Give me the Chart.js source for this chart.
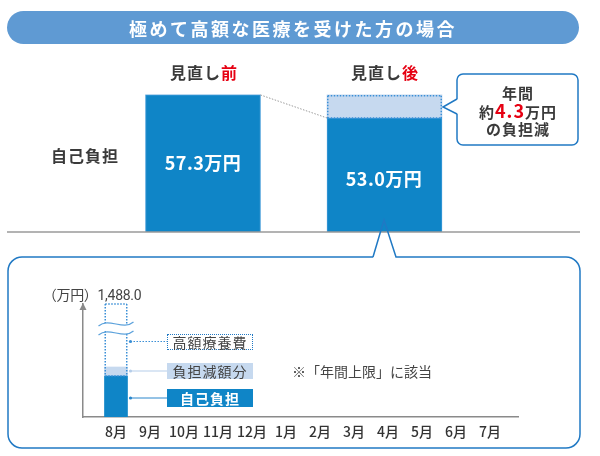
<!DOCTYPE html>
<html><head><meta charset="utf-8">
<script src="https://cdn.jsdelivr.net/npm/chart.js@4.4.0/dist/chart.umd.min.js"></script>
<style>
html,body{margin:0;padding:0;background:#fff;}
#wrap{position:relative;width:600px;height:456px;overflow:hidden;font-family:"Noto Sans CJK JP","Noto Sans",sans-serif;color:#333;}
canvas{position:absolute;left:0;top:0;}
#c1{z-index:1;} #c2{z-index:2;}
.t{position:absolute;transform:translate(-50%,-50%);white-space:nowrap;line-height:1;z-index:5;}
.red{color:#e60012;}
.md{font-weight:600;color:#3a3a3a;}
#title{position:absolute;left:7px;top:11px;width:572px;height:33px;border-radius:17px;background:#5f9ad3;z-index:5;}
.box{position:absolute;box-sizing:border-box;z-index:5;display:flex;align-items:center;justify-content:center;font-size:14px;letter-spacing:1px;line-height:1;color:#444;}
</style></head>
<body><div id="wrap">
<canvas id="c1" width="600" height="456"></canvas>
<canvas id="c2" width="600" height="456"></canvas>
<div id="title"></div>
<div class="t" style="left:293px;top:28px;color:#fff;font-weight:bold;font-size:18px;letter-spacing:2.5px;">極めて高額な医療を受けた方の場合</div>
<div class="t md" style="left:204px;top:72px;font-size:16px;letter-spacing:1px;">見直し<span class="red">前</span></div>
<div class="t md" style="left:385px;top:72px;font-size:16px;letter-spacing:1px;">見直し<span class="red">後</span></div>
<div class="t md" style="left:85px;top:155px;font-size:16px;letter-spacing:1px;">自己負担</div>
<div class="t" style="left:203px;top:162px;font-size:18px;font-weight:bold;color:#fff;letter-spacing:0.5px;">57.3万円</div>
<div class="t" style="left:384px;top:178px;font-size:18px;font-weight:bold;color:#fff;letter-spacing:0.5px;">53.0万円</div>
<div class="t md" style="left:518px;top:92px;font-size:15px;letter-spacing:1px;">年間</div>
<div class="t md" style="left:518px;top:110px;font-size:15px;letter-spacing:1px;">約<span class="red" style="font-weight:bold;font-size:18px;">4.3</span>万円</div>
<div class="t md" style="left:518px;top:128px;font-size:15px;letter-spacing:1px;">の負担減</div>
<div class="t" style="left:92px;top:295px;font-size:14px;letter-spacing:-0.3px;font-family:Roboto,'Noto Sans CJK JP',sans-serif;color:#444;">（万円）1,488.0</div>
<div class="box" style="left:167px;top:334px;width:86px;height:16px;border:1.5px dotted #2079c4;background:#fff;">高額療養費</div>
<div class="box" style="left:167px;top:363px;width:86px;height:16px;background:#c6d9ef;">負担減額分</div>
<div class="box" style="left:167px;top:389px;width:86px;height:18px;background:#0f85c7;color:#fff;font-weight:bold;">自己負担</div>
<div class="t" style="left:362px;top:371px;font-size:14px;color:#444;">※「年間上限」に該当</div>
</div>
<script>
// ---- data ----
const topCategories = ['見直し前', '見直し後'];
const topSelfPay = [57.3, 53.0];
const topReduction = [0, 4.3];
const months = ['8月','9月','10月','11月','12月','1月','2月','3月','4月','5月','6月','7月'];
const monthSelfPay = [53.0];
const monthReduction = [4.3];
const monthHighCost = [1430.7];

// ---- styles ----
const C_DARK = '#0f85c7', C_LIGHT = '#c6d9ef', C_LINE = '#2079c4', C_GRAY = '#8a8a8a';
const FONT = '"Noto Sans CJK JP","Noto Sans",sans-serif';

function roundRectPath(ctx, x, y, w, h, r) {
  ctx.moveTo(x + r, y); ctx.lineTo(x + w - r, y); ctx.arcTo(x + w, y, x + w, y + r, r);
  ctx.lineTo(x + w, y + h - r); ctx.arcTo(x + w, y + h, x + w - r, y + h, r);
  ctx.lineTo(x + r, y + h); ctx.arcTo(x, y + h, x, y + h - r, r);
  ctx.lineTo(x, y + r); ctx.arcTo(x, y, x + r, y, r);
}

function dottedRect(ctx, l, t, r, b, color, sides) {
  ctx.save();
  ctx.strokeStyle = color; ctx.lineWidth = 1.5; ctx.setLineDash([1.5, 1.5]);
  ctx.beginPath();
  if (sides.includes('t')) { ctx.moveTo(l, t); ctx.lineTo(r, t); }
  if (sides.includes('b')) { ctx.moveTo(l, b); ctx.lineTo(r, b); }
  if (sides.includes('l')) { ctx.moveTo(l, t); ctx.lineTo(l, b); }
  if (sides.includes('r')) { ctx.moveTo(r, t); ctx.lineTo(r, b); }
  ctx.stroke(); ctx.restore();
}

const topDeco = {
  id: 'topDeco',
  afterDatasetsDraw(chart) {
    const ctx = chart.ctx, ca = chart.chartArea;
    const b0 = chart.getDatasetMeta(0).data[0];
    const r1 = chart.getDatasetMeta(1).data[1];
    ctx.save();
    ctx.strokeStyle = '#9a9a9a'; ctx.lineWidth = 1.5;
    ctx.beginPath(); ctx.moveTo(7, ca.bottom); ctx.lineTo(580, ca.bottom); ctx.stroke();
    ctx.strokeStyle = '#9a9a9a'; ctx.lineWidth = 1; ctx.setLineDash([1.5, 1.5]);
    ctx.beginPath(); ctx.moveTo(b0.x + b0.width / 2, b0.y); ctx.lineTo(r1.x - r1.width / 2, r1.base); ctx.stroke();
    ctx.restore();
    dottedRect(ctx, r1.x - r1.width / 2 + 0.75, r1.y + 0.75, r1.x + r1.width / 2 - 0.75, r1.base, '#3a8fd6', 'tblr');
    ctx.save();
    ctx.strokeStyle = C_LINE; ctx.lineWidth = 1.5; ctx.fillStyle = '#fff';
    ctx.beginPath(); roundRectPath(ctx, 457, 74, 121, 71, 6); ctx.fill(); ctx.stroke();
    ctx.beginPath(); ctx.moveTo(458, 99); ctx.lineTo(443, 107); ctx.lineTo(458, 114); ctx.closePath(); ctx.fill();
    ctx.beginPath(); ctx.moveTo(457, 99); ctx.lineTo(443, 107); ctx.lineTo(457, 114); ctx.stroke();
    ctx.restore();
  }
};

new Chart(document.getElementById('c1'), {
  type: 'bar',
  data: {
    labels: topCategories,
    datasets: [
      { label: '自己負担', data: topSelfPay, backgroundColor: C_DARK, borderColor: '#3f9ad8', borderWidth: 1, barThickness: 115 },
      { label: '負担減', data: topReduction, backgroundColor: C_LIGHT, borderWidth: 0, barThickness: 115 }
    ]
  },
  options: {
    responsive: false, animation: false, events: [],
    layout: { padding: { left: 112.25, right: 124.75, top: 80.5, bottom: 224 } },
    plugins: { legend: { display: false }, tooltip: { enabled: false } },
    scales: {
      x: { display: false, stacked: true },
      y: { display: false, stacked: true, min: 31.69, max: 60 }
    }
  },
  plugins: [topDeco]
});

function wave(ctx, x0, x1, y) {
  const w = x1 - x0;
  ctx.moveTo(x0, y + 2);
  ctx.bezierCurveTo(x0 + w * 0.3, y - 7, x0 + w * 0.7, y + 7, x1, y - 2);
}

const bottomDeco = {
  id: 'bottomDeco',
  beforeDraw(chart) {
    const ctx = chart.ctx;
    ctx.save();
    ctx.strokeStyle = C_LINE; ctx.lineWidth = 1.5;
    const L = 8, T = 257, R = 580, B = 448, rad = 14;
    ctx.beginPath();
    ctx.moveTo(373, T); ctx.lineTo(384, 220); ctx.lineTo(396, T);
    ctx.lineTo(R - rad, T); ctx.arcTo(R, T, R, T + rad, rad);
    ctx.lineTo(R, B - rad); ctx.arcTo(R, B, R - rad, B, rad);
    ctx.lineTo(L + rad, B); ctx.arcTo(L, B, L, B - rad, rad);
    ctx.lineTo(L, T + rad); ctx.arcTo(L, T, L + rad, T, rad);
    ctx.lineTo(373, T);
    ctx.stroke();
    ctx.restore();
  },
  afterDatasetsDraw(chart) {
    const ctx = chart.ctx, ca = chart.chartArea;
    const r = chart.getDatasetMeta(1).data[0];
    const h = chart.getDatasetMeta(2).data[0];
    const l = h.x - h.width / 2, rr = h.x + h.width / 2;
    dottedRect(ctx, l + 0.75, ca.top, rr - 0.75, h.base, '#3a8fd6', 'tlr');
    dottedRect(ctx, l + 0.75, r.y, rr - 0.75, r.base, '#3a8fd6', 'blr');
    ctx.save();
    ctx.beginPath();
    ctx.moveTo(l - 6, 323);
    wave(ctx, l - 6, rr + 6, 324);
    ctx.lineTo(rr + 6, 331);
    ctx.bezierCurveTo(rr + 6 - (h.width + 12) * 0.3, 331 + 7, l - 6 + (h.width + 12) * 0.3, 331 - 7, l - 6, 335);
    ctx.closePath();
    ctx.fillStyle = '#fff'; ctx.fill();
    ctx.strokeStyle = '#5ea3dc'; ctx.lineWidth = 1.2;
    ctx.beginPath(); wave(ctx, l - 6, rr + 6, 324); ctx.stroke();
    ctx.beginPath(); wave(ctx, l - 6, rr + 6, 333); ctx.stroke();
    const conns = [[341.5, '#3a8fd6', true], [371, '#b5cde9', false], [398, '#2a86cc', false]];
    conns.forEach(([y, c, dotted]) => {
      ctx.strokeStyle = c; ctx.lineWidth = 1;
      ctx.setLineDash(dotted ? [1.5, 1.5] : []);
      ctx.beginPath(); ctx.moveTo(rr + 3, y); ctx.lineTo(167, y); ctx.stroke();
      ctx.setLineDash([]);
      ctx.fillStyle = c; ctx.beginPath(); ctx.arc(rr + 3, y, 1.6, 0, Math.PI * 2); ctx.fill();
    });
    ctx.fillStyle = C_GRAY;
    ctx.beginPath(); ctx.moveTo(ca.left, ca.top - 1); ctx.lineTo(ca.left - 3.5, ca.top + 6); ctx.lineTo(ca.left + 3.5, ca.top + 6); ctx.closePath(); ctx.fill();
    ctx.restore();
  }
};

new Chart(document.getElementById('c2'), {
  type: 'bar',
  data: {
    datasets: [
      { label: '自己負担', data: monthSelfPay.map((v, i) => ({ x: i, y: v })), backgroundColor: C_DARK, barThickness: 23 },
      { label: '負担減額分', data: monthReduction.map((v, i) => ({ x: i, y: v })), backgroundColor: C_LIGHT, barThickness: 23 },
      { label: '高額療養費', data: monthHighCost.map((v, i) => ({ x: i, y: v })), backgroundColor: 'rgba(0,0,0,0)', barThickness: 23 }
    ]
  },
  options: {
    responsive: false, animation: false, events: [],
    layout: { padding: { left: 83, right: 82, top: 304, bottom: 0 } },
    plugins: { legend: { display: false }, tooltip: { enabled: false } },
    scales: {
      x: {
        type: 'linear', stacked: true, offset: false, min: -0.97, max: 11.82,
        afterBuildTicks: s => { s.ticks = months.map((m, i) => ({ value: i })); },
        afterFit: s => { s.height = 39; },
        grid: { display: false, drawTicks: false },
        border: { display: true, color: C_GRAY, width: 1.5 },
        ticks: { autoSkip: false, maxRotation: 0, padding: 6, color: '#333', font: { family: FONT, size: 14, weight: '500' }, callback: v => months[v] }
      },
      y: {
        stacked: true, min: 33.4, max: 87.4,
        afterFit: s => { s.width = 0; },
        grid: { display: false, drawTicks: false },
        border: { display: true, color: C_GRAY, width: 1.5 },
        ticks: { display: false }
      }
    }
  },
  plugins: [bottomDeco]
});
</script>
</body></html>
